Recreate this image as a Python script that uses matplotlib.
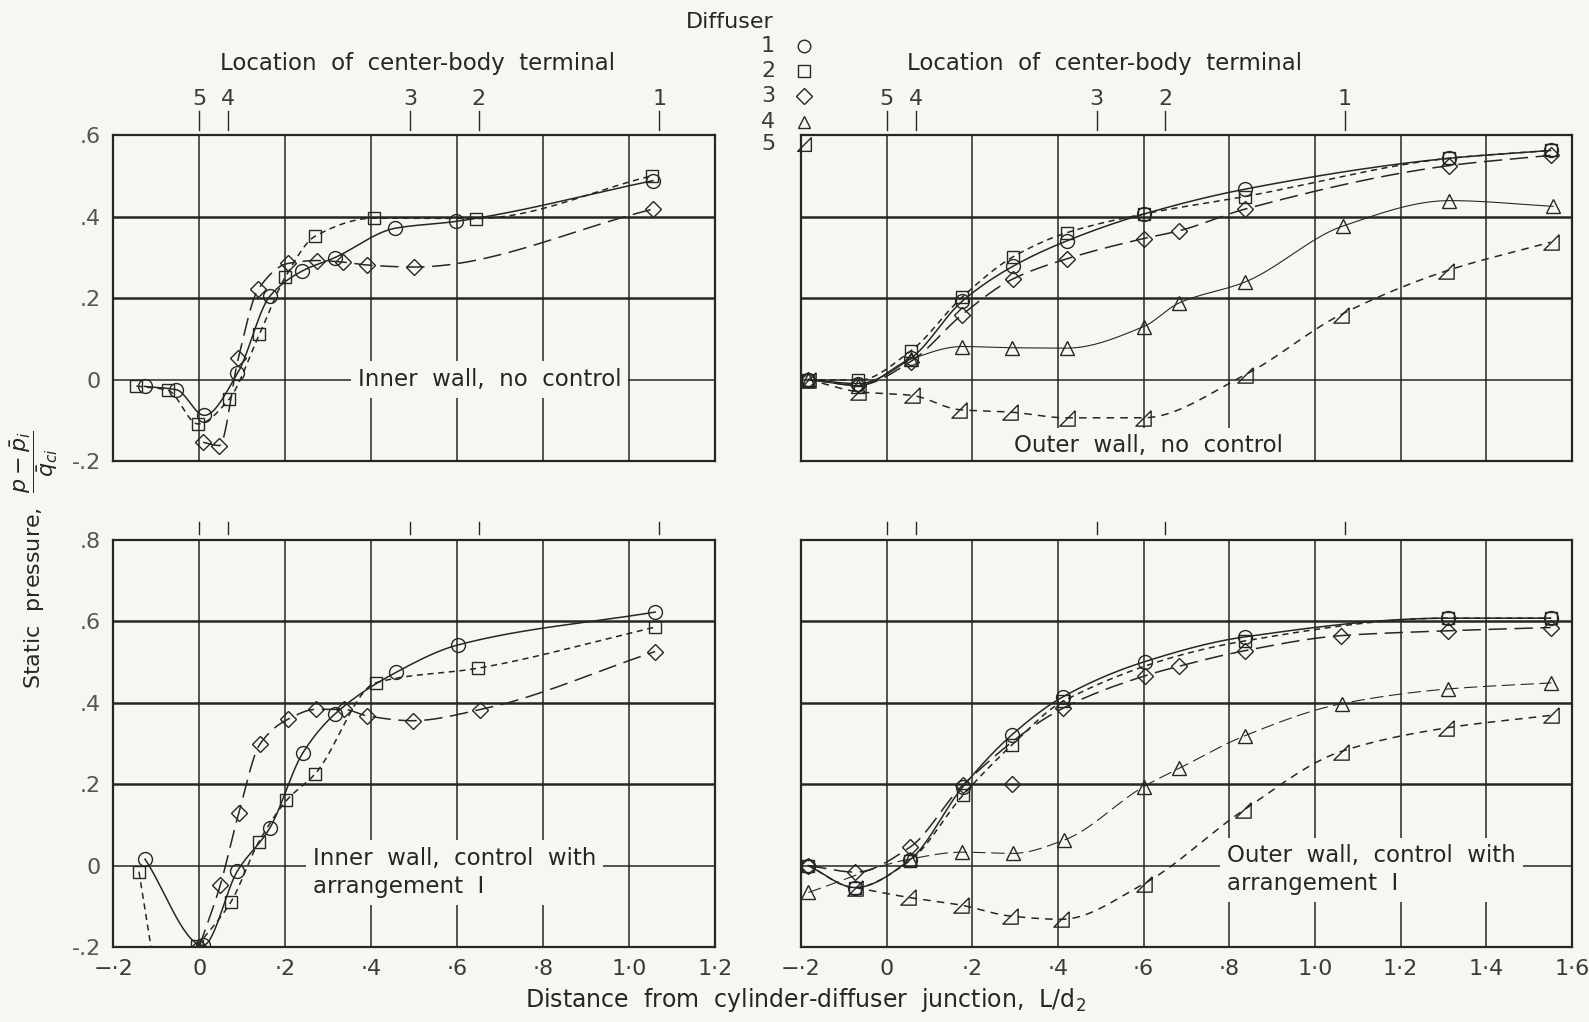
import numpy as np
import matplotlib.pyplot as plt
from matplotlib.lines import Line2D
import matplotlib.transforms as mtransforms

# ---- data ----
# top left: inner wall, no control
tl_c1_x = [-0.127, -0.053, 0.012, 0.089, 0.164, 0.239, 0.315, 0.455, 0.597, 1.055]
tl_c1_y = [-0.017, -0.025, -0.088, 0.015, 0.204, 0.266, 0.299, 0.371, 0.388, 0.488]
tl_s2_x = [-0.146, -0.073, -0.003, 0.069, 0.14, 0.2, 0.27, 0.406, 0.643, 1.053]
tl_s2_y = [-0.016, -0.026, -0.109, -0.049, 0.111, 0.251, 0.352, 0.396, 0.395, 0.5]
tl_d3_x = [0.009, 0.047, 0.091, 0.137, 0.207, 0.275, 0.335, 0.39, 0.499, 1.055]
tl_d3_y = [-0.154, -0.162, 0.052, 0.221, 0.285, 0.292, 0.288, 0.281, 0.276, 0.418]

# top right: outer wall, no control
tr_c1_x = [-0.183, -0.066, 0.056, 0.176, 0.295, 0.42, 0.6, 0.836, 1.314, 1.55]
tr_c1_y = [0.0, -0.01, 0.052, 0.192, 0.278, 0.34, 0.406, 0.467, 0.543, 0.562]
tr_s2_x = [-0.183, -0.066, 0.056, 0.176, 0.295, 0.42, 0.6, 0.836, 1.314, 1.55]
tr_s2_y = [0.0, -0.002, 0.07, 0.202, 0.301, 0.36, 0.406, 0.449, 0.543, 0.562]
tr_d3_x = [-0.183, -0.066, 0.056, 0.176, 0.295, 0.42, 0.6, 0.683, 0.836, 1.314, 1.55]
tr_d3_y = [0.0, -0.014, 0.044, 0.159, 0.247, 0.296, 0.346, 0.365, 0.418, 0.525, 0.55]
tr_t4_x = [-0.183, -0.066, 0.056, 0.176, 0.293, 0.42, 0.6, 0.683, 0.836, 1.066, 1.314, 1.556]
tr_t4_y = [0.0, -0.015, 0.05, 0.081, 0.078, 0.077, 0.13, 0.188, 0.239, 0.377, 0.439, 0.425]
tr_t5_x = [-0.183, -0.066, 0.059, 0.17, 0.289, 0.42, 0.598, 0.836, 1.06, 1.305, 1.55]
tr_t5_y = [0.0, -0.03, -0.039, -0.074, -0.08, -0.094, -0.094, 0.011, 0.159, 0.266, 0.337]

# bottom left: inner wall, control with arrangement I
bl_c1_x = [-0.126, 0.009, 0.089, 0.164, 0.241, 0.315, 0.458, 0.601, 1.06]
bl_c1_y = [0.016, -0.196, -0.013, 0.092, 0.277, 0.372, 0.475, 0.542, 0.623]
bl_s2_x = [-0.14, -0.005, 0.074, 0.138, 0.203, 0.27, 0.41, 0.648, 1.06]
bl_s2_y = [-0.015, -0.198, -0.089, 0.057, 0.16, 0.226, 0.449, 0.485, 0.586]
bl_s2_drop_x = [-0.14, -0.112]      # dashed fairing leaving the plot bottom
bl_s2_drop_y = [-0.015, -0.2]
bl_d3_x = [0.0, 0.049, 0.092, 0.141, 0.207, 0.272, 0.336, 0.39, 0.496, 0.652, 1.06]
bl_d3_y = [-0.2, -0.048, 0.129, 0.298, 0.36, 0.384, 0.384, 0.368, 0.356, 0.383, 0.526]

# bottom right: outer wall, control with arrangement I
br_c1_x = [-0.183, -0.073, 0.054, 0.178, 0.293, 0.412, 0.602, 0.836, 1.31, 1.55]
br_c1_y = [0.0, -0.054, 0.014, 0.194, 0.322, 0.415, 0.501, 0.562, 0.608, 0.608]
br_s2_x = [-0.183, -0.075, 0.054, 0.178, 0.293, 0.412, 0.836, 1.31, 1.55]
br_s2_y = [0.0, -0.054, 0.012, 0.173, 0.297, 0.404, 0.552, 0.608, 0.608]
br_d3_x = [-0.183, -0.073, 0.054, 0.178, 0.293, 0.412, 0.602, 0.683, 0.836, 1.06, 1.31, 1.55]
br_d3_y = [0.0, -0.016, 0.045, 0.198, 0.2, 0.387, 0.466, 0.49, 0.528, 0.565, 0.577, 0.585]
br_d3_off = [4]                      # point lying off the faired curve
br_t4_x = [-0.183, 0.054, 0.176, 0.295, 0.415, 0.6, 0.683, 0.836, 1.063, 1.31, 1.552]
br_t4_y = [-0.066, 0.016, 0.033, 0.03, 0.063, 0.194, 0.239, 0.319, 0.398, 0.434, 0.449]
br_t5_x = [-0.073, 0.05, 0.173, 0.289, 0.408, 0.6, 0.833, 1.06, 1.305, 1.55]
br_t5_y = [-0.054, -0.078, -0.097, -0.124, -0.132, -0.045, 0.136, 0.28, 0.338, 0.369]

term_x = [0.0, 0.068, 0.49, 0.65, 1.07]
term_lab = ["5", "4", "3", "2", "1"]
diffusers = ["1", "2", "3", "4", "5"]

left_xt = [-0.2, 0.0, 0.2, 0.4, 0.6, 0.8, 1.0, 1.2]
left_xl = ["\u2212\u00b72", "0", "\u00b72", "\u00b74", "\u00b76", "\u00b78", "1\u00b70", "1\u00b72"]
right_xt = [-0.2, 0.0, 0.2, 0.4, 0.6, 0.8, 1.0, 1.2, 1.4, 1.6]
right_xl = ["\u2212\u00b72", "0", "\u00b72", "\u00b74", "\u00b76", "\u00b78", "1\u00b70", "1\u00b72", "1\u00b74", "1\u00b76"]
top_yt = [-0.2, 0.0, 0.2, 0.4, 0.6]
top_yl = ["-.2", "0", ".2", ".4", ".6"]
bot_yt = [-0.2, 0.0, 0.2, 0.4, 0.6, 0.8]
bot_yl = ["-.2", "0", ".2", ".4", ".6", ".8"]

BG = "#f7f7f2"
INK = "#262626"
plt.rcParams["font.family"] = ["DejaVu Sans"]

tri5 = [(0.5, 0.5), (0.5, -0.5), (-0.5, -0.5), (0.5, 0.5)]
mk = {"1": dict(marker="o", ms=10), "2": dict(marker="s", ms=9),
      "3": dict(marker="D", ms=8.5), "4": dict(marker="^", ms=10),
      "5": dict(marker=tri5, ms=11)}


def pchip(x, y, n=300):
    x = np.asarray(x, float)
    y = np.asarray(y, float)
    h = np.diff(x)
    d = np.diff(y) / h
    m = np.zeros_like(y)
    m[0], m[-1] = d[0], d[-1]
    for k in range(1, len(x) - 1):
        if d[k - 1] * d[k] > 0:
            w1 = 2 * h[k] + h[k - 1]
            w2 = h[k] + 2 * h[k - 1]
            m[k] = (w1 + w2) / (w1 / d[k - 1] + w2 / d[k])
    xs = np.linspace(x[0], x[-1], n)
    i = np.clip(np.searchsorted(x, xs) - 1, 0, len(h) - 1)
    t = (xs - x[i]) / h[i]
    ys = ((2 * t**3 - 3 * t**2 + 1) * y[i] + (t**3 - 2 * t**2 + t) * h[i] * m[i]
          + (-2 * t**3 + 3 * t**2) * y[i + 1] + (t**3 - t**2) * h[i] * m[i + 1])
    return xs, ys


def series(ax, x, y, d, dash, lw=1.1, off=()):
    keep = [k for k in range(len(x)) if k not in off]
    xs, ys = pchip([x[k] for k in keep], [y[k] for k in keep])
    ln, = ax.plot(xs, ys, color=INK, lw=lw, zorder=3)
    if dash is not None:
        ln.set_dashes(dash)
    ax.plot(x, y, ls="none", mfc="none", mec=INK, mew=1.0, zorder=4, **mk[d])


def panel(rect, xt, xl, yt, yl, show_x, show_y, big_ticks):
    ax = fig.add_axes(rect)
    ax.set_facecolor(BG)
    ax.set_xlim(xt[0], xt[-1])
    ax.set_ylim(yt[0], yt[-1])
    for v in xt[1:-1]:
        ax.axvline(v, color=INK, lw=1.1, zorder=1)
    for v in yt[1:-1]:
        ax.axhline(v, color=INK, lw=1.1 if v == 0 else 1.8, zorder=1)
    for s in ax.spines.values():
        s.set_color(INK)
        s.set_linewidth(1.6)
    ax.set_xticks(xt)
    ax.set_yticks(yt)
    ax.set_xticklabels(xl if show_x else [""] * len(xt), fontsize=16, color="#3a3a3a")
    ax.set_yticklabels(yl if show_y else [""] * len(yt), fontsize=16, color="#555555")
    ax.tick_params(length=0, pad=9)
    trans = mtransforms.blended_transform_factory(ax.transData, ax.transAxes)
    top = 1.074 if big_ticks else 1.044
    for tx, tl in zip(term_x, term_lab):
        ax.plot([tx, tx], [1.015, top], color=INK, lw=1.0, transform=trans, clip_on=False)
        if big_ticks:
            ax.text(tx, 1.11, tl, transform=trans, ha="center", va="center",
                    fontsize=16, color="#3a3a3a")
    if big_ticks:
        cx = 0.505 if xt[-1] < 1.4 else 0.394
        ax.text(cx, 1.218, "Location  of  center-body  terminal", transform=ax.transAxes,
                ha="center", va="center", fontsize=16.5, color=INK)
    return ax


fig = plt.figure(figsize=(15.89, 10.22), dpi=100, facecolor=BG)

ax_tl = panel([0.0712, 0.5489, 0.3790, 0.319], left_xt, left_xl, top_yt, top_yl, False, True, True)
ax_tr = panel([0.5041, 0.5489, 0.4852, 0.319], right_xt, right_xl, top_yt, top_yl, False, False, True)
ax_bl = panel([0.0712, 0.0734, 0.3790, 0.3982], left_xt, left_xl, bot_yt, bot_yl, True, True, False)
ax_br = panel([0.5041, 0.0734, 0.4852, 0.3982], right_xt, right_xl, bot_yt, bot_yl, True, False, False)

box = dict(facecolor=BG, edgecolor="none", pad=5)
txt = dict(fontsize=16.5, color=INK, zorder=2)

# top left
series(ax_tl, tl_c1_x, tl_c1_y, "1", None)
series(ax_tl, tl_s2_x, tl_s2_y, "2", (4, 3))
series(ax_tl, tl_d3_x, tl_d3_y, "3", (12, 5))
ax_tl.text(0.675, 0.0, "Inner  wall,  no  control", ha="center", va="center", bbox=box, **txt)

# top right
series(ax_tr, tr_c1_x, tr_c1_y, "1", None)
series(ax_tr, tr_s2_x, tr_s2_y, "2", (4, 3))
series(ax_tr, tr_d3_x, tr_d3_y, "3", (12, 5))
series(ax_tr, tr_t4_x, tr_t4_y, "4", None, lw=0.8)
series(ax_tr, tr_t5_x, tr_t5_y, "5", (5, 4))
ax_tr.text(0.61, -0.163, "Outer  wall,  no  control", ha="center", va="center", bbox=box, **txt)

# bottom left
series(ax_bl, bl_c1_x, bl_c1_y, "1", None)
series(ax_bl, bl_s2_x[1:], bl_s2_y[1:], "2", (4, 3))
ax_bl.plot(bl_s2_x[:1], bl_s2_y[:1], ls="none", mfc="none", mec=INK, mew=1.0, zorder=4, **mk["2"])
dl, = ax_bl.plot(bl_s2_drop_x, bl_s2_drop_y, color=INK, lw=1.1, zorder=3)
dl.set_dashes((4, 3))
series(ax_bl, bl_d3_x, bl_d3_y, "3", (12, 5))
ax_bl.text(0.265, -0.017, "Inner  wall,  control  with\narrangement  I", ha="left", va="center",
           linespacing=1.25, bbox=box, **txt)

# bottom right
series(ax_br, br_c1_x, br_c1_y, "1", None)
series(ax_br, br_s2_x, br_s2_y, "2", (4, 3))
series(ax_br, br_d3_x, br_d3_y, "3", (12, 5), off=br_d3_off)
series(ax_br, br_t4_x, br_t4_y, "4", (12, 5), lw=0.8)
series(ax_br, br_t5_x, br_t5_y, "5", (5, 4))
ax_br.text(0.795, -0.01, "Outer  wall,  control  with\narrangement  I", ha="left", va="center",
           linespacing=1.25, bbox=box, **txt)

# legend (drawn by hand, like the original)
fig.text(0.4594, 0.9785, "Diffuser", ha="center", va="center", fontsize=16, color=INK)
rows = [0.955, 0.9305, 0.906, 0.8806, 0.859]
for d, ry in zip(diffusers, rows):
    fig.text(0.4833, ry, d, ha="center", va="center", fontsize=16, color="#3a3a3a")
    fig.add_artist(Line2D([0.506], [ry], transform=fig.transFigure, ls="none",
                          mfc="none", mec=INK, mew=1.0, **{**mk[d], "ms": mk[d]["ms"] * 0.9}))

fig.text(0.0215, 0.452, r"Static  pressure,  $\dfrac{p-\bar{p}_i}{\bar{q}_{ci}}$", rotation=90,
         ha="center", va="center", fontsize=16, color=INK)
fig.text(0.507, 0.022, r"Distance  from  cylinder-diffuser  junction,  L/d$_2$",
         ha="center", va="center", fontsize=17, color=INK)

fig.savefig("out.png", dpi=100, facecolor=BG)
